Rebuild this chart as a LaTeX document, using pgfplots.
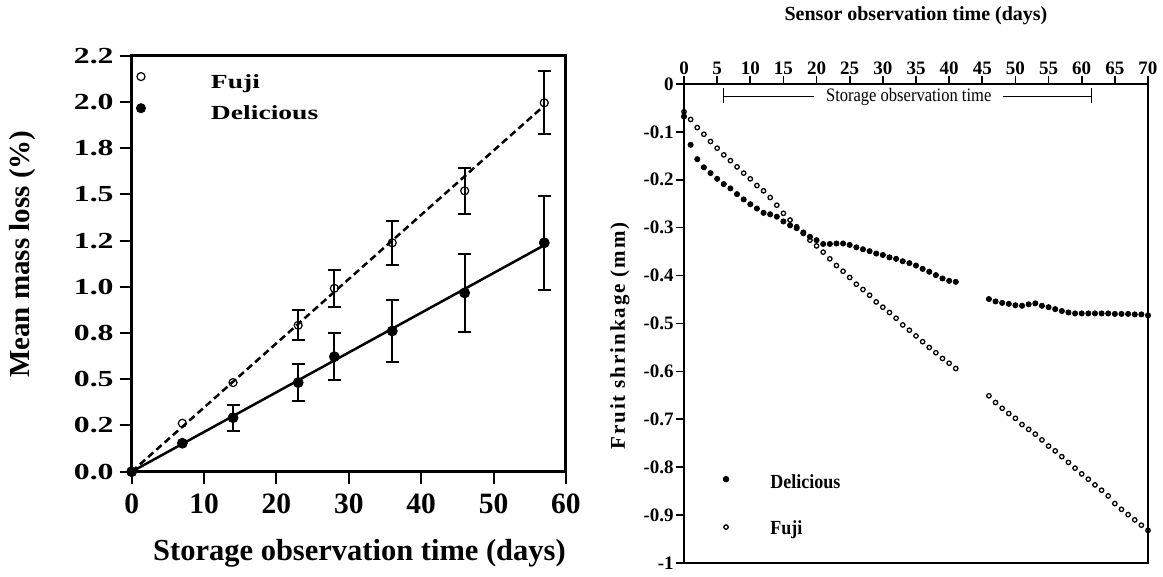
\documentclass[border=0pt]{standalone}
\usepackage{fontspec}
\setmainfont{Liberation Serif}
\newfontfamily\widefont[FakeStretch=1.38]{Liberation Serif}
\newfontfamily\narrowfont[FakeStretch=0.9]{Liberation Serif}
\newfontfamily\condfont[FakeStretch=0.87]{Liberation Serif}
\newfontfamily\spacedfont[LetterSpace=9]{Liberation Serif}
\usepackage{pgfplots}
\usepackage{pgfplotstable}
\pgfplotsset{compat=1.18}

\pgfplotstableread{
x y
7 0.262
14 0.482
23 0.792
28 0.992
36 1.238
46 1.519
57 1.995
}\fujiL
\pgfplotstableread{
x y e
23 0.792 0.08
28 0.992 0.10
36 1.238 0.12
46 1.519 0.125
57 1.995 0.17
}\fujiLerr
\pgfplotstableread{
x y
0 0
7 0.154
14 0.292
23 0.482
28 0.622
36 0.761
46 0.967
57 1.238
}\delL
\pgfplotstableread{
x y e
14 0.292 0.07
23 0.482 0.10
28 0.622 0.126
36 0.761 0.165
46 0.967 0.21
57 1.238 0.254
}\delLerr

\pgfplotstableread{
x y
0 -0.068
1 -0.127
2 -0.157
3 -0.174
4 -0.186
5 -0.198
6 -0.209
7 -0.218
8 -0.230
9 -0.241
10 -0.251
11 -0.260
12 -0.269
13 -0.272
14 -0.277
15 -0.287
16 -0.295
17 -0.301
18 -0.310
19 -0.319
20 -0.326
21 -0.334
22 -0.334
23 -0.333
24 -0.333
25 -0.336
26 -0.341
27 -0.345
28 -0.349
29 -0.354
30 -0.357
31 -0.362
32 -0.365
33 -0.370
34 -0.374
35 -0.379
36 -0.386
37 -0.392
38 -0.399
39 -0.406
40 -0.411
41 -0.413
46 -0.449
47 -0.454
48 -0.457
49 -0.459
50 -0.462
51 -0.463
52 -0.460
53 -0.458
54 -0.463
55 -0.466
56 -0.470
57 -0.474
58 -0.477
59 -0.479
60 -0.479
61 -0.479
62 -0.479
63 -0.479
64 -0.479
65 -0.480
66 -0.480
67 -0.480
68 -0.481
69 -0.481
70 -0.483
}\delR
\pgfplotstableread{
x y
0 -0.058
1 -0.074
2 -0.091
3 -0.105
4 -0.120
5 -0.134
6 -0.148
7 -0.160
8 -0.173
9 -0.186
10 -0.198
11 -0.212
12 -0.223
13 -0.237
14 -0.253
15 -0.270
16 -0.284
17 -0.298
18 -0.312
19 -0.326
20 -0.338
21 -0.351
22 -0.365
23 -0.379
24 -0.391
25 -0.404
26 -0.418
27 -0.429
28 -0.441
29 -0.455
30 -0.466
31 -0.477
32 -0.489
33 -0.503
34 -0.514
35 -0.526
36 -0.538
37 -0.550
38 -0.561
39 -0.573
40 -0.583
41 -0.594
46 -0.651
47 -0.665
48 -0.677
49 -0.688
50 -0.698
51 -0.711
52 -0.721
53 -0.731
54 -0.743
55 -0.756
56 -0.766
57 -0.778
58 -0.790
59 -0.802
60 -0.814
61 -0.825
62 -0.837
63 -0.848
64 -0.860
65 -0.876
66 -0.888
67 -0.899
68 -0.910
69 -0.921
70 -0.932
}\fujiR

\begin{document}
\begin{tikzpicture}
\useasboundingbox (0,0) rectangle (581.5pt,288.5pt);

% ---------------- left chart ----------------
\begin{axis}[
  at={(65.85pt,52.65pt)}, anchor=south west,
  scale only axis, width=217.15pt, height=208pt,
  xmin=0, xmax=60, ymin=0, ymax=2.25,
  axis line style={line width=1.5pt},
  xtick={0,10,20,30,40,50,60},
  xticklabels={0,10,20,30,40,50,60},
  ytick={0,0.25,0.5,0.75,1,1.25,1.5,1.75,2,2.25},
  yticklabels={0.0,0.2,0.5,0.8,1.0,1.2,1.5,1.8,2.0,2.2},
  tick align=outside, xtick pos=left, ytick pos=left,
  major tick length=6pt,
  every tick/.style={line width=1pt, black},
  /pgf/number format/assume math mode=true,
  yticklabel style={font=\widefont\bfseries\fontsize{11.5}{12}\selectfont, inner xsep=2.85pt, anchor=east},
  xticklabel style={font=\bfseries\fontsize{14.75}{15}\selectfont, inner ysep=5pt, anchor=north},
  ylabel={Mean mass loss (\%)},
  ylabel style={at={(axis description cs:-0.2514,0.523)}, anchor=center, font=\bfseries\fontsize{14.5}{15}\selectfont},
  xlabel={Storage observation time (days)},
  xlabel style={at={(axis description cs:0.5245,-0.2123)}, anchor=base, font=\bfseries\fontsize{15.25}{16}\selectfont},
  clip=false,
]
% error bars
\addplot[draw=none, mark=none,
  error bars/.cd, y dir=both, y explicit,
  error bar style={draw=black, solid, line width=1pt},
  error mark=-,
  error mark options={rotate=90, draw=black, solid, mark size=3.25pt, line width=1pt}]
  table[x=x, y=y, y error=e] {\fujiLerr};
\addplot[draw=none, mark=none,
  error bars/.cd, y dir=both, y explicit,
  error bar style={draw=black, solid, line width=1pt},
  error mark=-,
  error mark options={rotate=90, draw=black, solid, mark size=3.25pt, line width=1pt}]
  table[x=x, y=y, y error=e] {\delLerr};
% regression lines
\addplot[black, line width=1.25pt, dash pattern=on 3.5pt off 2pt] coordinates {(0,0) (57,1.98)};
\addplot[black, line width=1.25pt] coordinates {(0,0) (57,1.225)};
% points
\addplot[only marks, mark=*, mark size=2.5pt, black] table[x=x,y=y] {\delL};
\addplot[only marks, mark=o, mark size=2pt, mark options={line width=0.6pt, black, fill=none}] table[x=x,y=y] {\fujiL};
\addplot[only marks, mark=o, mark size=2pt, mark options={line width=0.6pt, black, fill=white}] coordinates {(0,0)};
% legend markers
\addplot[only marks, mark=o, mark size=2pt, mark options={line width=0.6pt, black}] coordinates {(1.28,2.137)};
\addplot[only marks, mark=*, mark size=2.3pt, black] coordinates {(1.28,1.966)};
\node[anchor=base west, inner sep=0pt, font=\widefont\bfseries\fontsize{10}{12}\selectfont] at (axis cs:10.9,2.0747) {Fuji};
\node[anchor=base west, inner sep=0pt, font=\widefont\bfseries\fontsize{10}{12}\selectfont] at (axis cs:10.9,1.907) {Delicious};
\end{axis}

% ---------------- right chart ----------------
\begin{axis}[
  at={(342pt,7pt)}, anchor=south west,
  scale only axis, width=232pt, height=239.5pt,
  xmin=0, xmax=70, ymin=-1, ymax=0,
  axis line style={line width=1pt},
  xtick={0,5,10,15,20,25,30,35,40,45,50,55,60,65,70},
  xticklabels={0,5,10,15,20,25,30,35,40,45,50,55,60,65,70},
  ytick={-1,-0.9,-0.8,-0.7,-0.6,-0.5,-0.4,-0.3,-0.2,-0.1,0},
  yticklabels={-1,-0.9,-0.8,-0.7,-0.6,-0.5,-0.4,-0.3,-0.2,-0.1,0},
  xtick pos=right, xticklabel pos=right, ytick pos=left,
  tick align=outside, major tick length=4pt,
  every tick/.style={line width=0.8pt, black},
  /pgf/number format/assume math mode=true,
  xticklabel style={font=\bfseries\fontsize{9.5}{10}\selectfont, inner ysep=0.5pt},
  yticklabel style={font=\bfseries\fontsize{9.5}{10}\selectfont, inner xsep=1pt, anchor=east},
  ylabel={Fruit shrinkage (mm)},
  ylabel style={at={(axis description cs:-0.138,0.474)}, anchor=center, font=\spacedfont\bfseries\fontsize{10.5}{12}\selectfont},
  clip=false,
]
% title
\node[anchor=base, inner sep=0pt, font=\bfseries\fontsize{10}{12}\selectfont] at (rel axis cs:0.5,1.132) {Sensor observation time (days)};
% storage observation time bracket
\draw[line width=0.5pt] (axis cs:5.9,-0.0265) -- (axis cs:61.5,-0.0265);
\draw[line width=0.5pt] (axis cs:5.9,-0.0077) -- (axis cs:5.9,-0.0403);
\draw[line width=0.5pt] (axis cs:61.5,-0.0077) -- (axis cs:61.5,-0.0403);
\node[fill=white, inner xsep=6pt, inner ysep=1pt, font=\condfont\fontsize{9.5}{11}\selectfont] at (axis cs:33.9,-0.0265) {Storage observation time};
% data
\addplot[only marks, mark=*, mark size=1.3pt, black] table[x=x,y=y] {\delR};
\addplot[only marks, mark=o, mark size=1.1pt, mark options={line width=0.65pt, black, fill=white}] table[x=x,y=y] {\fujiR};
% legend
\addplot[only marks, mark=*, mark size=1.4pt, black] coordinates {(6.34,-0.825)};
\addplot[only marks, mark=o, mark size=1.1pt, mark options={line width=0.65pt, black, fill=white}] coordinates {(6.34,-0.925)};
\node[anchor=base west, inner sep=0pt, font=\narrowfont\bfseries\fontsize{10}{12}\selectfont] at (axis cs:12.98,-0.8455) {Delicious};
\node[anchor=base west, inner sep=0pt, font=\narrowfont\bfseries\fontsize{10}{12}\selectfont] at (axis cs:12.98,-0.9415) {Fuji};
\end{axis}
\end{tikzpicture}
\end{document}
